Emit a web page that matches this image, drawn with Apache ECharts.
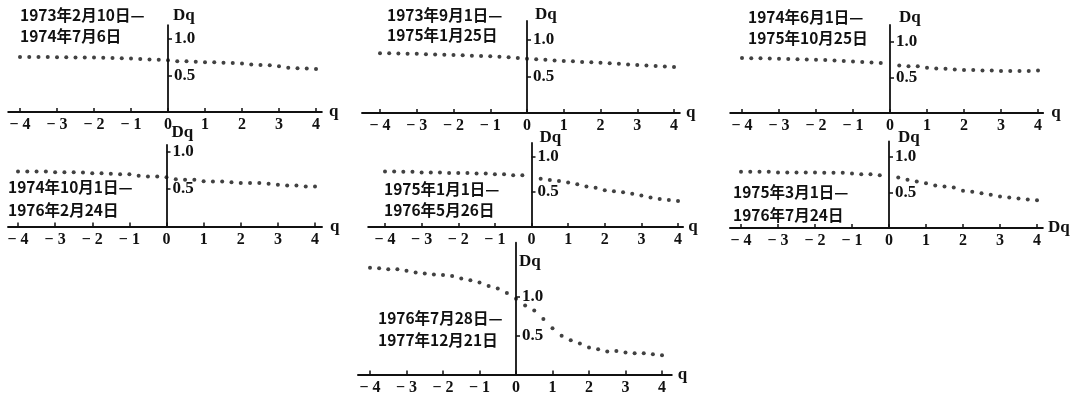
<!DOCTYPE html>
<html><head><meta charset="utf-8">
<script src="https://cdn.jsdelivr.net/npm/echarts@6/dist/echarts.min.js"></script>
<style>html,body{margin:0;padding:0;background:#fff}#c{width:1078px;height:398px}</style>
</head><body><div id="c"></div>
<script>
// ---- data ----
const qValues = [-4,-3.75,-3.5,-3.25,-3,-2.75,-2.5,-2.25,-2,-1.75,-1.5,-1.25,-1,-0.75,-0.5,-0.25,0,
  0.25,0.5,0.75,1,1.25,1.5,1.75,2,2.25,2.5,2.75,3,3.25,3.5,3.75,4];
const dq1 = [0.755,0.755,0.752,0.752,0.75,0.75,0.747,0.745,0.745,0.742,0.74,0.735,0.732,0.727,0.72,0.716,0.71,
  0.695,0.695,0.69,0.68,0.68,0.673,0.67,0.664,0.65,0.643,0.64,0.627,0.605,0.598,0.595,0.59];
const dq2 = [0.82,0.82,0.815,0.812,0.81,0.805,0.80,0.798,0.795,0.79,0.785,0.78,0.777,0.77,0.762,0.752,0.742,
  0.735,0.73,0.72,0.714,0.71,0.70,0.695,0.69,0.682,0.675,0.665,0.656,0.65,0.645,0.638,0.63];
const dq3 = [0.773,0.772,0.77,0.766,0.764,0.76,0.757,0.753,0.75,0.745,0.74,0.733,0.727,0.72,0.712,0.705,null,
  0.668,0.66,0.658,0.636,0.627,0.623,0.614,0.605,0.605,0.60,0.60,0.59,0.59,0.59,0.59,0.60];
const dq4 = [0.735,0.735,0.735,0.735,0.726,0.726,0.726,0.721,0.712,0.712,0.704,0.70,0.70,0.677,0.668,0.668,0.659,
  0.633,0.624,0.624,0.606,0.60,0.60,0.593,0.58,0.58,0.58,0.571,0.558,0.549,0.549,0.535,0.535];
const dq5 = [0.794,0.794,0.789,0.789,0.779,0.779,0.779,0.77,0.77,0.77,0.765,0.765,0.755,0.755,0.74,0.74,null,
  0.69,0.67,0.657,0.635,0.61,0.577,0.56,0.525,0.51,0.495,0.475,0.45,0.42,0.40,0.385,0.37];
const dq6 = [0.791,0.791,0.791,0.791,0.782,0.782,0.782,0.782,0.782,0.777,0.777,0.777,0.767,0.757,0.757,0.743,null,
  0.71,0.68,0.655,0.63,0.60,0.585,0.57,0.525,0.51,0.49,0.47,0.445,0.43,0.415,0.40,0.39];
const dq7 = [1.378,1.37,1.357,1.357,1.34,1.317,1.304,1.29,1.283,1.27,1.24,1.217,1.187,1.143,1.109,1.052,0.978,
  0.891,0.826,0.717,0.596,0.50,0.443,0.40,0.348,0.326,0.296,0.304,0.283,0.274,0.274,0.26,0.248];
const seriesValues = [dq1,dq2,dq3,dq4,dq5,dq6,dq7];
const xTickValues = [-4,-3,-2,-1,0,1,2,3,4];
const yTickValues = [0.5,1.0];
const periods = [
  ['1973年2月10日—','1974年7月6日'],
  ['1973年9月1日—','1975年1月25日'],
  ['1974年6月1日—','1975年10月25日'],
  ['1974年10月1日—','1976年2月24日'],
  ['1975年1月1日—','1976年5月26日'],
  ['1975年3月1日—','1976年7月24日'],
  ['1976年7月28日—','1977年12月21日']
];
const xAxisNames = ['q','q','q','q','q','Dq','q'];
const yAxisName = 'Dq';

// ---- layout (pixel positions, not data) ----
const layout = [
  {qL:20,  qR:316,  y0:112,   y1:39,    xmin:-4.32, xmax:4.16, ymax:1.19, dqGap:10, dqPad:5, xGap:7, dx:20,  dy:[15,36]},
  {qL:380, qR:674,  y0:113,   y1:40,    xmin:-4.49, xmax:4.16, ymax:1.26, dqGap:6,  dqPad:8, xGap:6, dx:387, dy:[15,35]},
  {qL:742, qR:1038, y0:113,   y1:42,    xmin:-4.32, xmax:4.14, ymax:1.24, dqGap:7,  dqPad:9, xGap:8, dx:748, dy:[17,38]},
  {qL:18,  qR:315,  y0:226.5, y1:151.7, xmin:-4.27, xmax:4.19, ymax:1.09, dqGap:12, dqPad:5, xGap:8, dx:8,   dy:[187,210]},
  {qL:385, qR:678,  y0:227,   y1:157,   xmin:-4.46, xmax:4.14, ymax:1.20, dqGap:5,  dqPad:8, xGap:5, dx:384, dy:[189,210]},
  {qL:741, qR:1037, y0:228,   y1:157,   xmin:-4.30, xmax:4.16, ymax:1.22, dqGap:4,  dqPad:9, xGap:5, dx:733, dy:[192,215]},
  {qL:370, qR:662,  y0:374.5, y1:297,   xmin:-4.33, xmax:4.27, ymax:1.70, dqGap:-19,dqPad:3, xGap:6, dx:378, dy:[318,340]}
];

const numFont = 'Liberation Serif';
const grids = [], xAxes = [], yAxes = [], series = [], graphics = [];
layout.forEach((L, i) => {
  const ppx = (L.qR - L.qL) / 8;
  const ppy = L.y0 - L.y1;
  const left = L.qL + (L.xmin + 4) * ppx;
  const zeroX = L.qL + 4 * ppx;
  grids.push({
    left: left,
    width: (L.xmax - L.xmin) * ppx,
    top: L.y0 - L.ymax * ppy,
    height: L.ymax * ppy
  });
  xAxes.push({
    type: 'value', gridIndex: i, min: L.xmin, max: L.xmax,
    name: xAxisNames[i], nameLocation: 'end', nameGap: L.xGap,
    nameTextStyle: {fontFamily: numFont, fontWeight: 'bold', fontSize: 17, color: '#111', verticalAlign: 'middle'},
    axisLine: {show: true, onZero: false, lineStyle: {color: '#111', width: 1.8}},
    axisTick: {show: true, inside: true, length: 4, customValues: xTickValues, lineStyle: {color: '#111', width: 1.5}},
    axisLabel: {show: true, customValues: xTickValues, margin: 5, color: '#111',
      fontFamily: numFont, fontWeight: 'bold', fontSize: 16,
      formatter: v => v < 0 ? '\u2212 ' + Math.abs(v) : String(v)},
    splitLine: {show: false}
  });
  yAxes.push({
    type: 'value', gridIndex: i, min: 0, max: L.ymax, position: 'left',
    offset: -(zeroX - left),
    name: yAxisName, nameLocation: 'end', nameGap: L.dqGap,
    nameTextStyle: {fontFamily: numFont, fontWeight: 'bold', fontSize: 17, color: '#111', align: 'left', verticalAlign: 'middle', padding: [0, 0, 0, L.dqPad]},
    axisLine: {show: true, onZero: false, lineStyle: {color: '#111', width: 1.8}},
    axisTick: {show: true, inside: true, length: 4, customValues: yTickValues, lineStyle: {color: '#111', width: 1.5}},
    axisLabel: {show: true, inside: true, customValues: yTickValues, margin: 6, color: '#111',
      fontFamily: numFont, fontWeight: 'bold', fontSize: 17,
      formatter: v => v.toFixed(1)},
    splitLine: {show: false}
  });
  const pts = [];
  qValues.forEach((q, k) => { const v = seriesValues[i][k]; if (v !== null) pts.push([q, v]); });
  series.push({
    type: 'scatter', xAxisIndex: i, yAxisIndex: i, data: pts,
    symbol: 'circle', symbolSize: 4, itemStyle: {color: '#111'}, z: 5, silent: true
  });
  periods[i].forEach((t, j) => {
    graphics.push({type: 'text', x: L.dx, y: L.dy[j], silent: true,
      style: {text: t, fill: '#111', font: 'bold 15.5px "Noto Sans CJK SC", sans-serif', verticalAlign: 'middle'}});
  });
});

const chart = echarts.init(document.getElementById('c'), null, {renderer: 'canvas'});
chart.setOption({
  animation: false, backgroundColor: '#fff',
  grid: grids, xAxis: xAxes, yAxis: yAxes, series: series, graphic: graphics
});
</script></body></html>
